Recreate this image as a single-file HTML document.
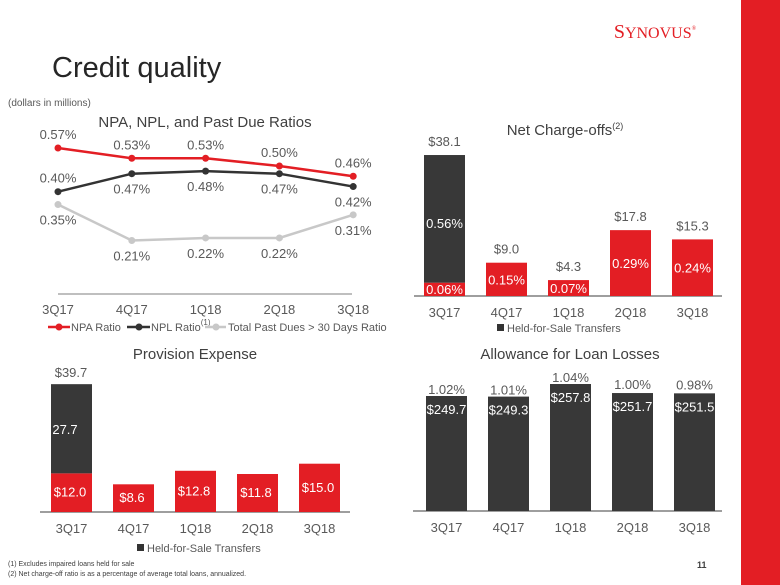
<!DOCTYPE html>
<html><head><meta charset="utf-8"><style>
body{margin:0;width:780px;height:585px;overflow:hidden;background:#fff;font-family:"Liberation Sans",sans-serif}
svg{position:absolute;left:0;top:0}
</style></head><body>
<svg id="s" width="780" height="585" xmlns="http://www.w3.org/2000/svg" font-family="Liberation Sans, sans-serif">
<rect x="741" y="0" width="39" height="585" fill="#e31e24"/>
<text x="655" y="38" text-anchor="middle" font-family="Liberation Serif, serif" font-size="20" fill="#e31e24">S<tspan font-size="16">YNOVUS</tspan><tspan font-size="6" dy="-8">®</tspan></text>
<text x="52" y="77" font-size="29" fill="#262626">Credit quality</text>
<text x="8" y="106" font-size="10" fill="#595959">(dollars in millions)</text>
<text x="205" y="127" text-anchor="middle" font-size="15" fill="#404040">NPA, NPL, and Past Due Ratios</text>
<text x="565" y="135" text-anchor="middle" font-size="15" fill="#404040">Net Charge-offs<tspan font-size="9" dy="-6">(2)</tspan></text>
<text x="195" y="359" text-anchor="middle" font-size="15" fill="#404040">Provision Expense</text>
<text x="570" y="359" text-anchor="middle" font-size="15" fill="#404040">Allowance for Loan Losses</text>
<g font-size="11" fill="#595959">
<line x1="48" y1="327" x2="70" y2="327" stroke="#e31e24" stroke-width="2.5"/><circle cx="59" cy="327" r="3.5" fill="#e31e24"/>
<text x="71" y="331">NPA Ratio</text>
<line x1="127" y1="327" x2="150" y2="327" stroke="#333" stroke-width="2.5"/><circle cx="139" cy="327" r="3.5" fill="#333"/>
<text x="151" y="331">NPL Ratio<tspan font-size="8" dy="-6">(1)</tspan></text>
<line x1="205" y1="327" x2="226" y2="327" stroke="#c8c8c8" stroke-width="2.5"/><circle cx="216" cy="327" r="3.5" fill="#c8c8c8"/>
<text x="228" y="331">Total Past Dues &gt; 30 Days Ratio</text>
</g>
<g><rect x="497" y="324" width="7" height="7" fill="#333"/><text x="507" y="332" font-size="11" fill="#595959">Held-for-Sale Transfers</text></g>
<g><rect x="137" y="544" width="7" height="7" fill="#333"/><text x="147" y="552" font-size="11" fill="#595959">Held-for-Sale Transfers</text></g>
<text x="8" y="566" font-size="7" fill="#404040">(1)   Excludes impaired loans held for sale</text>
<text x="8" y="576" font-size="7" fill="#404040">(2)   Net charge-off ratio is as a percentage of average total loans, annualized.</text>
<text x="697" y="568" font-size="9" font-weight="bold" fill="#404040">11</text>
</svg>
<script>
const quarters=["3Q17","4Q17","1Q18","2Q18","3Q18"];
const npa=[0.57,0.53,0.53,0.50,0.46];
const npl=[0.40,0.47,0.48,0.47,0.42];
const pastDue=[0.35,0.21,0.22,0.22,0.31];
const ncoHfs=[34.5,0,0,0,0];
const ncoCore=[3.6,9.0,4.3,17.8,15.3];
const ncoTotalLabels=["$38.1","$9.0","$4.3","$17.8","$15.3"];
const ncoPct=["0.06%","0.15%","0.07%","0.29%","0.24%"];
const provHfs=[27.7,0,0,0,0];
const provCore=[12.0,8.6,12.8,11.8,15.0];
const provTotalLabels=["$39.7","","","",""];
const allowance=[249.7,249.3,257.8,251.7,251.5];
const allowancePct=["1.02%","1.01%","1.04%","1.00%","0.98%"];

const S=document.getElementById('s');
const NS="http://www.w3.org/2000/svg";
function mk(tag,at,txt){const e=document.createElementNS(NS,tag);for(const k in at)e.setAttribute(k,at[k]);if(txt!==undefined)e.textContent=txt;S.appendChild(e);return e;}
const RED="#e31e24",DARK="#383838",GRAY="#595959",FS=13;

const lx=i=>58+i*73.8;
const ly=v=>148+(0.57-v)*257;
let ax=mk('line',{x1:58,y1:294,x2:352,y2:294,stroke:"#7f7f7f","stroke-width":1});

quarters.forEach((q,i)=>{const t=mk('text',{x:lx(i),y:314,"text-anchor":"middle","font-size":FS,fill:GRAY},q);
});
function series(vals,color,name,above){
 const p=mk('polyline',{points:vals.map((v,i)=>lx(i)+","+ly(v)).join(" "),fill:"none",stroke:color,"stroke-width":2.5});
 
 vals.forEach((v,i)=>{const c=mk('circle',{cx:lx(i),cy:ly(v),r:3.5,fill:color});
  
  const up=above[i];
  const t=mk('text',{x:lx(i),y:ly(v)+(up?-9:20),"text-anchor":"middle","font-size":FS,fill:GRAY},v.toFixed(2)+"%");
  });
}
series(pastDue,"#c8c8c8","past-due",[0,0,0,0,0]);
series(npl,"#333","npl",[1,0,0,0,0]);
series(npa,RED,"npa",[1,1,1,1,1]);

function bars(x0,base,scale,minv,axisX1,axisX2,name){
 const a=mk('line',{x1:axisX1,y1:base,x2:axisX2,y2:base,stroke:"#7f7f7f","stroke-width":1.5});
 
 quarters.forEach((q,i)=>{const t=mk('text',{x:x0+i*62+20.5,y:base+21,"text-anchor":"middle","font-size":FS,fill:GRAY},q);
  });
 return {bx:i=>x0+i*62,y:v=>base-(v-minv)*scale};
}
const n=bars(424,296,3.7,0,414,722,'nco');
quarters.forEach((q,i)=>{
 const yc=n.y(ncoCore[i]),yt=n.y(ncoCore[i]+ncoHfs[i]);
 const r=mk('rect',{x:n.bx(i),y:yc,width:41,height:296-yc,fill:RED});
 
 if(ncoHfs[i]>0){const g=mk('rect',{x:n.bx(i),y:yt,width:41,height:yc-yt,fill:DARK});
  }
 const t=mk('text',{x:n.bx(i)+20.5,y:yt-9,"text-anchor":"middle","font-size":FS,fill:GRAY},ncoTotalLabels[i]);
 
 const py=(yc+296)/2+5;
 const pt=mk('text',{x:n.bx(i)+20.5,y:ncoHfs[i]>0?n.y(ncoCore[i]+ncoHfs[i]*0.43):py,"text-anchor":"middle","font-size":FS,fill:"#fff"},ncoPct[i]);
 
 if(ncoHfs[i]>0){const p2=mk('text',{x:n.bx(i)+20.5,y:294,"text-anchor":"middle","font-size":FS,fill:"#fff"},ncoPct[i]);
  
  pt.textContent="0.56%";}
});
const p=bars(51,512,3.22,0,40,350,'provision');
quarters.forEach((q,i)=>{
 const yc=p.y(provCore[i]),yt=p.y(provCore[i]+provHfs[i]);
 const r=mk('rect',{x:p.bx(i),y:yc,width:41,height:512-yc,fill:RED});
 
 const lt=mk('text',{x:p.bx(i)+19,y:(yc+512)/2+4,"text-anchor":"middle","font-size":FS,fill:"#fff"},"$"+provCore[i].toFixed(1));
 
 if(provHfs[i]>0){const g=mk('rect',{x:p.bx(i),y:yt,width:41,height:yc-yt,fill:DARK});
  
  const gt=mk('text',{x:p.bx(i)+14,y:(yt+yc)/2+5,"text-anchor":"middle","font-size":FS,fill:"#fff"},provHfs[i].toFixed(1));
  }
 if(provTotalLabels[i]){const t=mk('text',{x:p.bx(i)+20,y:yt-7,"text-anchor":"middle","font-size":FS,fill:GRAY},provTotalLabels[i]);
  }
});
const al=bars(426,511,1.48,172,413,722,'allowance');
quarters.forEach((q,i)=>{
 const y=al.y(allowance[i]);
 const r=mk('rect',{x:al.bx(i),y:y,width:41,height:511-y,fill:DARK});
 
 const t=mk('text',{x:al.bx(i)+20.5,y:y+18,"text-anchor":"middle","font-size":FS,fill:"#fff"},"$"+allowance[i].toFixed(1));
 
 const pt=mk('text',{x:al.bx(i)+20.5,y:y-(i>=3?4:2),"text-anchor":"middle","font-size":FS,fill:GRAY},allowancePct[i]);
 
});
</script>
</body></html>
